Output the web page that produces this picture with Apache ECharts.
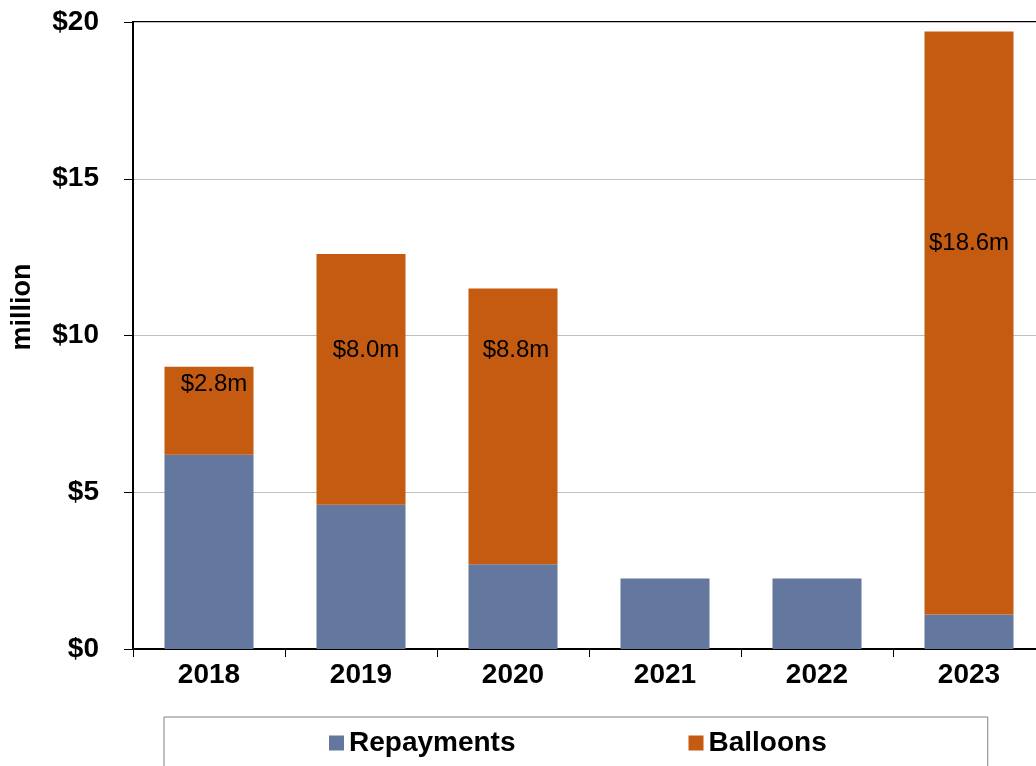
<!DOCTYPE html>
<html>
<head>
<meta charset="utf-8">
<script src="https://cdn.jsdelivr.net/npm/echarts@6/dist/echarts.min.js"></script>
<style>
html,body{margin:0;padding:0;background:#fff;overflow:hidden;}
#c{width:1046px;height:766px;}
</style>
</head>
<body>
<div id="c"></div>
<script>
var categories = ['2018', '2019', '2020', '2021', '2022', '2023'];
var repayments = [6.2, 4.6, 2.7, 2.25, 2.25, 1.1];
var balloons = [2.8, 8.0, 8.8, null, null, 18.6];
var yTicks = [0, 5, 10, 15, 20];

// label placement (style only)
var labelOffsets = [[5, 6], [5, 84], [3, 50], [0, 0], [0, 0], [0, 200]];

var FONT = '"Liberation Sans", Arial, sans-serif';
var chart = echarts.init(document.getElementById('c'), null, {renderer: 'canvas'});

var balloonData = balloons.map(function (v, i) {
  return {
    value: v,
    label: {offset: labelOffsets[i]}
  };
});

chart.setOption({
  animation: false,
  backgroundColor: '#ffffff',
  grid: {
    left: 133, top: 22, right: 1, bottom: 117,
    show: true, borderColor: '#000', borderWidth: 2, backgroundColor: 'transparent'
  },
  legend: {
    left: 164, top: 717,
    padding: [12, 161, 40, 165],
    itemGap: 173,
    itemWidth: 15, itemHeight: 15,
    icon: 'rect',
    borderColor: '#808080', borderWidth: 1,
    textStyle: {fontFamily: FONT, fontWeight: 'bold', fontSize: 28, color: '#000'},
    data: ['Repayments', 'Balloons']
  },
  graphic: [{
    type: 'text', x: 23, y: 307, rotation: Math.PI / 2,
    style: {text: 'million', font: 'bold 27px ' + FONT, fill: '#000', align: 'center', verticalAlign: 'middle'}
  }],
  xAxis: {
    type: 'category',
    data: categories,
    axisLine: {lineStyle: {color: '#000', width: 2}},
    axisTick: {show: true, length: 8, lineStyle: {color: '#000', width: 1}},
    axisLabel: {fontFamily: FONT, fontWeight: 'bold', fontSize: 28, color: '#000', margin: 12}
  },
  yAxis: {
    type: 'value',
    min: yTicks[0], max: yTicks[yTicks.length - 1], interval: 5,
    axisLine: {show: true, lineStyle: {color: '#000', width: 2}},
    axisTick: {show: true, length: 9, lineStyle: {color: '#000', width: 1}},
    splitLine: {lineStyle: {color: '#BFBFBF', width: 1}},
    axisLabel: {
      fontFamily: FONT, fontWeight: 'bold', fontSize: 28, color: '#000', margin: 34,
      formatter: function (v) { return '$' + v; }
    }
  },
  series: [{
    name: 'Repayments',
    type: 'bar',
    stack: 'total',
    barWidth: 89,
    itemStyle: {color: '#63779F'},
    data: repayments
  }, {
    name: 'Balloons',
    type: 'bar',
    stack: 'total',
    barWidth: 89,
    itemStyle: {color: '#C55A11'},
    label: {
      show: true,
      position: 'insideTop',
      distance: 0,
      fontFamily: FONT, fontSize: 24, color: '#000',
      formatter: function (p) { return p.value == null ? '' : '$' + p.value.toFixed(1) + 'm'; }
    },
    data: balloonData
  }]
});
</script>
</body>
</html>
